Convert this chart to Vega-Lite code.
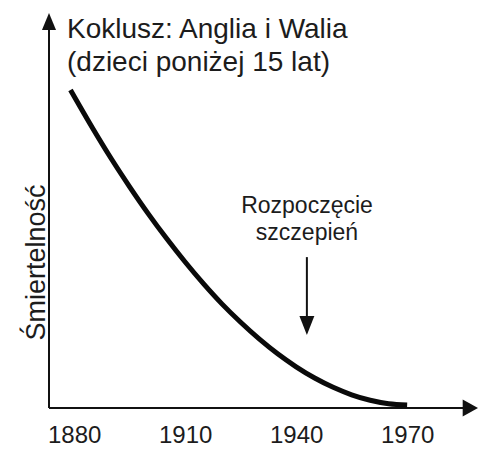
{
  "$schema": "https://vega.github.io/schema/vega-lite/v6.json",
  "width": 429,
  "height": 395,
  "autosize": {"type": "none"},
  "padding": {"left": 49, "top": 13, "right": 0, "bottom": 44},
  "background": "white",
  "config": {"view": {"stroke": null}},
  "datasets": {
    "curve": [
      {"x": 1879, "y": 80.53},
      {"x": 1885, "y": 70.83},
      {"x": 1890, "y": 63.16},
      {"x": 1895, "y": 56.0},
      {"x": 1900, "y": 49.22},
      {"x": 1905, "y": 42.89},
      {"x": 1910, "y": 36.96},
      {"x": 1915, "y": 31.42},
      {"x": 1920, "y": 26.30},
      {"x": 1925, "y": 21.70},
      {"x": 1930, "y": 17.49},
      {"x": 1935, "y": 13.72},
      {"x": 1940, "y": 10.43},
      {"x": 1945, "y": 7.59},
      {"x": 1950, "y": 5.24},
      {"x": 1955, "y": 3.35},
      {"x": 1960, "y": 1.96},
      {"x": 1965, "y": 1.08},
      {"x": 1970, "y": 0.76}
    ],
    "rules": [
      {"x": 1873.2, "y": 0, "x2": 1873.2, "y2": 97},
      {"x": 1873.2, "y": 0, "x2": 1986, "y2": 0},
      {"x": 1942.9, "y": 38.2, "x2": 1942.9, "y2": 22}
    ],
    "heads": [
      {"x": 1873.2, "y": 97.84, "dir": "up"},
      {"x": 1987.08, "y": 0, "dir": "right"},
      {"x": 1942.9, "y": 20.87, "dir": "down"}
    ],
    "title": [
      {"x": 1878.06, "y": 93.67, "label": "Koklusz: Anglia i Walia\n(dzieci poniżej 15 lat)"}
    ],
    "note": [
      {"x": 1942.93, "y": 49.37, "label": "Rozpoczęcie\nszczepień"}
    ]
  },
  "encoding": {
    "x": {
      "field": "x",
      "type": "quantitative",
      "scale": {"domain": [1873.2, 1989.15], "nice": false, "zero": false},
      "axis": {
        "values": [1880, 1910, 1940, 1970],
        "format": "d",
        "title": null,
        "domain": false,
        "ticks": false,
        "grid": false,
        "labelFont": "Liberation Sans",
        "labelFontSize": 24,
        "labelColor": "#1c1c1c",
        "labelPadding": 15,
        "labelOverlap": false,
        "labelBound": false,
        "labelFlush": false
      }
    },
    "y": {
      "field": "y",
      "type": "quantitative",
      "scale": {"domain": [0, 100], "nice": false, "zero": false},
      "axis": {
        "title": "Śmiertelność",
        "labels": false,
        "domain": false,
        "ticks": false,
        "grid": false,
        "titleFont": "Liberation Sans",
        "titleFontSize": 27,
        "titleFontWeight": "normal",
        "titleColor": "#1c1c1c",
        "titleAngle": 270,
        "titleX": -13,
        "titleY": 249,
        "titleAlign": "center",
        "titleBaseline": "middle"
      }
    }
  },
  "layer": [
    {
      "data": {"name": "rules"},
      "mark": {"type": "rule", "color": "#111", "strokeWidth": 2},
      "encoding": {
        "x2": {"field": "x2"},
        "y2": {"field": "y2"}
      }
    },
    {
      "data": {"name": "heads"},
      "mark": {"type": "point", "filled": true, "opacity": 1, "color": "#111", "size": 324},
      "encoding": {
        "shape": {
          "field": "dir",
          "type": "nominal",
          "scale": {
            "domain": ["up", "right", "down"],
            "range": ["M0,-0.95L0.78,0.95L-0.78,0.95Z", "M0.85,0L-0.85,-0.95L-0.85,0.95Z", "M0,1.05L-0.83,-1.05L0.83,-1.05Z"]
          },
          "legend": null
        }
      }
    },
    {
      "data": {"name": "curve"},
      "mark": {"type": "line", "color": "#0a0a0a", "strokeWidth": 5, "interpolate": "monotone", "strokeCap": "butt"}
    },
    {
      "data": {"name": "title"},
      "mark": {"type": "text", "align": "left", "baseline": "alphabetic", "font": "Liberation Sans", "fontSize": 28, "lineHeight": 33, "lineBreak": "\n", "color": "#1c1c1c"},
      "encoding": {"text": {"field": "label", "type": "nominal"}}
    },
    {
      "data": {"name": "note"},
      "mark": {"type": "text", "align": "center", "baseline": "alphabetic", "font": "Liberation Sans", "fontSize": 23, "lineHeight": 27, "lineBreak": "\n", "color": "#1c1c1c"},
      "encoding": {"text": {"field": "label", "type": "nominal"}}
    }
  ]
}
